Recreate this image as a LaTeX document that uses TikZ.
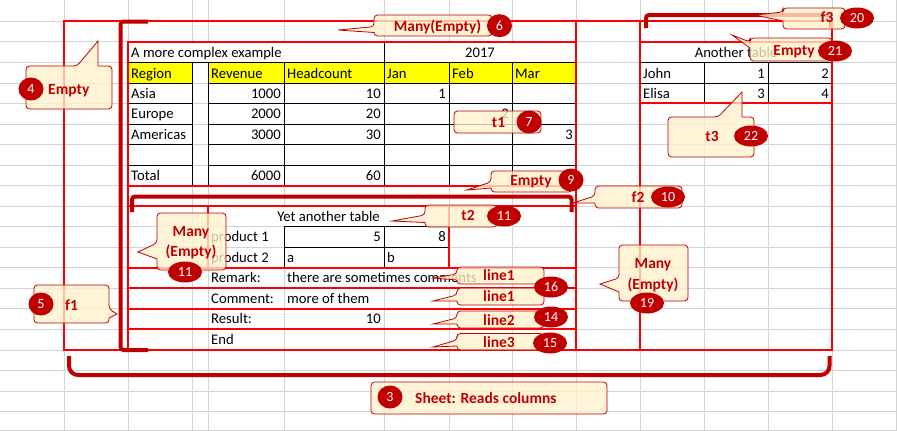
\documentclass[tikz,border=0pt]{standalone}
\usepackage{fontspec}
\setmainfont{Carlito}
\usetikzlibrary{shapes.geometric}
\definecolor{dred}{HTML}{C00000}
\definecolor{cream}{HTML}{FFF2CC}
\definecolor{gridc}{HTML}{D4D4D4}
\definecolor{xred}{HTML}{FF0000}
\definecolor{ylw}{HTML}{FFFF00}
\newcommand{\tfont}{\fontsize{14.67}{17}\selectfont}
\newcommand{\cfont}{\fontsize{15.5}{18}\selectfont\bfseries}
\newcommand{\bfontx}{\fontsize{14}{16}\selectfont}
% left-pointer callout: x1,y1,x2,y2,b1,b2,tipx,tipy
\newcommand{\cL}[8]{\draw[callout] (#1,#6) [rounded corners=3.5pt] -- (#1,#4) -- (#3,#4) -- (#3,#2) -- (#1,#2) -- (#1,#5) [sharp corners] -- (#7,#8) -- cycle;}
\begin{document}
\begin{tikzpicture}[x=1pt,y=-1pt,
  gridl/.style={draw=gridc, line width=0.9pt},
  cellb/.style={draw=black, line width=0.9pt},
  redl/.style={draw=xred, line width=2pt},
  brk/.style={draw=dred, line width=4pt, rounded corners=3pt},
  callout/.style={draw=dred, line width=0.8pt, fill=cream, fill opacity=0.78},
  ctxt/.style={text=dred, font=\cfont, inner sep=0pt, anchor=base},
  tt/.style={font=\tfont, inner sep=0pt, text=black},
  badge/.style={ellipse, fill=dred, text=white, font=\bfontx, inner sep=0pt, minimum width=25pt, minimum height=23pt},
  badgew/.style={badge, minimum width=34pt, minimum height=21pt}]
\useasboundingbox (0,0) rectangle (897,431);
\fill[white] (0,0) rectangle (897,431);
% grid
\foreach \x in {64,128,192,208,284,384,449,512,576,640,704,768,832,896} \draw[gridl] (\x,0) -- (\x,431);
\foreach \y in {21,41.5,62,83,103,124,144.5,165,185.5,206,226.5,247,267.5,288,308.5,329,350,370.5,391,411.5,430.5} \draw[gridl] (0,\y) -- (897,\y);
% masks for merged / overflowing cells
\fill[white] (128.5,42) rectangle (383.5,61.5);
\fill[white] (384.5,42) rectangle (575.5,61.5);
\fill[white] (640.5,42) rectangle (831.5,61.5);
\fill[white] (208.5,206.5) rectangle (448.5,226);
\fill[white] (284.5,268) rectangle (511.5,287.5);
% yellow header
\fill[ylw] (128,62) rectangle (192,83);
\fill[ylw] (208,62) rectangle (576,83);
% table 1 borders
\draw[cellb] (128,62) -- (576,62);
\foreach \y in {83,103,124,144.5,165} {\draw[cellb] (128,\y) -- (192,\y); \draw[cellb] (208,\y) -- (576,\y);}
\foreach \x in {192,208,284,449,512} \draw[cellb] (\x,62) -- (\x,185.5);
\draw[cellb] (384,41.5) -- (384,185.5);
% table t2 borders
\draw[cellb] (284,226.5) -- (449,226.5);
\draw[cellb] (284,247) -- (449,247);
\draw[cellb] (284,226.5) -- (284,267.5);
\draw[cellb] (384,226.5) -- (384,267.5);
% table t3 borders
\draw[cellb] (640,62) -- (832,62);
\draw[cellb] (640,83) -- (832,83);
\draw[cellb] (704,62) -- (704,103);
\draw[cellb] (768,62) -- (768,103);
% table texts
\node[tt, anchor=base west] (tA) at (131,57) {A more complex example};
\node[tt, anchor=base] (tY) at (480,57) {2017};
\node[tt, anchor=base west] (h1) at (131,78) {Region};
\node[tt, anchor=base west] (h2) at (211,78) {Revenue};
\node[tt, anchor=base west] (h3) at (287,78) {Headcount};
\node[tt, anchor=base west] (h4) at (387,78) {Jan};
\node[tt, anchor=base west] (h5) at (452,78) {Feb};
\node[tt, anchor=base west] (h6) at (515,78) {Mar};
\node[tt, anchor=base west] (r1a) at (131,98) {Asia};
\node[tt, anchor=base east] (r1b) at (281,98) {1000};
\node[tt, anchor=base east] (r1c) at (381,98) {10};
\node[tt, anchor=base east] (r1d) at (446,98) {1};
\node[tt, anchor=base west] (r2a) at (131,118.5) {Europe};
\node[tt, anchor=base east] (r2b) at (281,118.5) {2000};
\node[tt, anchor=base east] (r2c) at (381,118.5) {20};
\node[tt, anchor=base east] (r2d) at (509,118.5) {2};
\node[tt, anchor=base west] (r3a) at (131,139) {Americas};
\node[tt, anchor=base east] (r3b) at (281,139) {3000};
\node[tt, anchor=base east] (r3c) at (381,139) {30};
\node[tt, anchor=base east] (r3d) at (573,139) {3};
\node[tt, anchor=base west] (r5a) at (131,180) {Total};
\node[tt, anchor=base east] (r5b) at (281,180) {6000};
\node[tt, anchor=base east] (r5c) at (381,180) {60};
\node[tt, anchor=base] (tB) at (736,57) {Another table};
\node[tt, anchor=base west] (j1) at (643,78) {John};
\node[tt, anchor=base east] (j2) at (765,78) {1};
\node[tt, anchor=base east] (j3) at (829,78) {2};
\node[tt, anchor=base west] (e1) at (643,98) {Elisa};
\node[tt, anchor=base east] (e2) at (765,98) {3};
\node[tt, anchor=base east] (e3) at (829,98) {4};
\node[tt, anchor=base] (tC) at (328.5,221) {Yet another table};
\node[tt, anchor=base west] (p1) at (211,241.5) {product 1};
\node[tt, anchor=base east] (p1b) at (381,241.5) {5};
\node[tt, anchor=base east] (p1c) at (446,241.5) {8};
\node[tt, anchor=base west] (p2) at (211,262) {product 2};
\node[tt, anchor=base west] (p2b) at (287,262) {a};
\node[tt, anchor=base west] (p2c) at (387,262) {b};
\node[tt, anchor=base west] (l1) at (211,282.5) {Remark:};
\node[tt, anchor=base west] (l1b) at (287,282.5) {there are sometimes comments};
\node[tt, anchor=base west] (l2) at (211,303) {Comment:};
\node[tt, anchor=base west] (l2b) at (287,303) {more of them};
\node[tt, anchor=base west] (l3) at (211,323.5) {Result:};
\node[tt, anchor=base east] (l3b) at (381,323.5) {10};
\node[tt, anchor=base west] (l4) at (211,344.5) {End};
% red region boxes
\draw[redl] (64,21) rectangle (832,350);
\draw[redl] (128,350) -- (128,41.5) -- (576,41.5);
\draw[redl] (576,21) -- (576,350);
\foreach \y in {185.5,206,267.5,288,308.5,329} \draw[redl] (128,\y) -- (576,\y);
\draw[redl] (208,206) -- (208,267.5);
\draw[redl] (449,206) -- (449,267.5);
\draw[redl] (640,21) -- (640,350);
\draw[redl] (640,41.5) -- (832,41.5);
\draw[redl] (640,103) -- (832,103);
% brackets
\draw[brk] (148,21.5) -- (120.5,21.5) -- (120.5,350) -- (148,350);
\draw[brk] (132,212) -- (132,196.5) -- (571.5,196.5) -- (571.5,212);
\draw[brk] (646,28) -- (646,15) -- (831,15) -- (831,28);
\draw[brk, rounded corners=9pt] (69,356) -- (69,375) -- (829.5,375) -- (829.5,356);
% callouts
\draw[callout] (98,66) [rounded corners=3.5pt] -- (112,66) -- (112,109) -- (26,109) -- (26,66) -- (77,66) [sharp corners] -- (98,41) -- cycle;
\cL{374}{15}{492}{36}{26.7}{32.5}{338}{30}
\draw[callout, rounded corners=3.5pt] (454,111) rectangle (541,133);
\cL{491}{171}{572}{192}{182}{188}{467}{190}
\cL{595}{186}{682}{208}{196}{203}{573}{203}
\cL{425}{205}{497}{227}{215}{222.5}{392}{221}
\cL{157}{213}{226}{270}{243}{259}{138}{252}
\cL{457}{267}{544}{284}{274}{280}{433}{278}
\cL{457}{288}{544}{305}{295}{301}{433}{301}
\cL{457}{311}{544}{328}{318}{324}{433}{324}
\cL{457}{333.5}{544}{350}{340}{346}{433}{347}
\cL{619}{245}{688}{301}{278}{292}{600}{284}
\draw[callout] (109,318) [rounded corners=3.5pt] -- (109,323) -- (34,323) -- (34,285) -- (109,285) -- (109,309) [sharp corners] -- (117,314) -- cycle;
\draw[callout, rounded corners=3.5pt] (371,382) rectangle (607,414);
\cL{783}{8}{845}{29}{12}{21}{755}{15}
\cL{750}{38}{832}{61}{42}{48}{732}{35}
\draw[callout] (742,117) [rounded corners=3.5pt] -- (754,117) -- (754,157) -- (668,157) -- (668,117) -- (718,117) [sharp corners] -- (742,92) -- cycle;
% callout texts
\node[ctxt, anchor=base west] (c4) at (48,94) {Empty};
\node[ctxt] (c6) at (437.5,31.5) {Many(Empty)};
\node[ctxt] (c7) at (498.5,127) {t1};
\node[ctxt] (c9) at (531,185.5) {Empty};
\node[ctxt] (c10) at (638,202) {f2};
\node[ctxt] (c11) at (468,220) {t2};
\node[ctxt] (c11a) at (191,236.5) {Many};
\node[ctxt] (c11b) at (191,256.5) {(Empty)};
\node[ctxt] (c16) at (499,280.5) {line1};
\node[ctxt] (c16b) at (499,301.5) {line1};
\node[ctxt] (c14) at (499,325) {line2};
\node[ctxt] (c15) at (499,347) {line3};
\node[ctxt] (c19a) at (653,268) {Many};
\node[ctxt] (c19b) at (653,289) {(Empty)};
\node[ctxt] (c5) at (71.5,310) {f1};
\node[ctxt, anchor=base west] (c3) at (415,403) {Sheet: Reads columns};
\node[ctxt] (c20) at (827,22.5) {f3};
\node[ctxt] (c21) at (794,55) {Empty};
\node[ctxt] (c22) at (712,141.5) {t3};
% badges
\node[badge] (b4) at (31,89) {4};
\node[badge] (b6) at (499.5,25.7) {6};
\node[badge] (b7) at (529,122) {7};
\node[badge] (b9) at (571,180) {9};
\node[badgew] (b10) at (668,197) {10};
\node[badgew] (b11) at (504,216) {11};
\node[badgew] (b11l) at (185,272) {11};
\node[badgew] (b16) at (551,287) {16};
\node[badgew] (b14) at (551,317) {14};
\node[badgew] (b15) at (550,343) {15};
\node[badgew] (b19) at (647,303) {19};
\node[badge] (b5) at (41,304) {5};
\node[badge] (b3) at (390,397) {3};
\node[badgew] (b20) at (857,18) {20};
\node[badgew] (b21) at (835,51) {21};
\node[badgew] (b22) at (751,136) {22};
\end{tikzpicture}
\end{document}
